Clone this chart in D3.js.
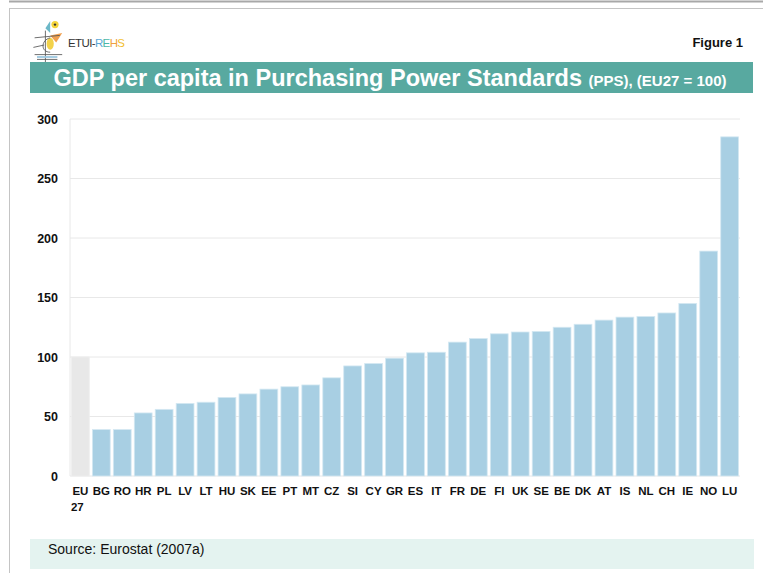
<!DOCTYPE html>
<html>
<head>
<meta charset="utf-8">
<script src="https://cdn.jsdelivr.net/npm/d3@7"></script>
<style>
  body { margin: 0; background: #fff; font-family: "Liberation Sans", Arial, sans-serif; }
</style>
</head>
<body>
<svg id="chart" width="763" height="575"></svg>
<script>
// 数据
let countries = ["EU 27", "BG", "RO", "HR", "PL", "LV", "LT", "HU", "SK", "EE", "PT", "MT", "CZ", "SI", "CY", "GR",
                 "ES", "IT", "FR", "DE", "FI", "UK", "SE", "BE", "DK", "AT", "IS", "NL", "CH", "IE", "NO", "LU"];
let values = [100, 39, 39, 53, 56, 61, 62, 66, 69, 73, 75, 76.5, 82.5, 92.5, 94.5, 99,
              103.5, 104, 112.5, 115.5, 119.5, 121, 121.5, 125, 127.5, 131, 133.5, 134, 137, 145, 189, 285];
let yTicks = [0, 50, 100, 150, 200, 250, 300];

let svg = d3.select("#chart");
let margin = { left: 70, right: 23, top: 119, bottom: 99 };
let W = 763, H = 575;

// 外框
svg.append("line").attr("x1", 9).attr("x2", W).attr("y1", 1.5).attr("y2", 1.5)
   .attr("stroke", "#a8a8a8").attr("stroke-width", 2);
svg.append("line").attr("x1", 9).attr("x2", W).attr("y1", 8.5).attr("y2", 8.5)
   .attr("stroke", "#c4c4c4").attr("stroke-width", 1);
svg.append("line").attr("x1", 9.5).attr("x2", 9.5).attr("y1", 8).attr("y2", 573)
   .attr("stroke", "#c4c4c4").attr("stroke-width", 1);

// logo
let logo = svg.append("g").attr("transform", "translate(31,21) scale(1.2)");
logo.append("path").attr("d", "M12,6 L16,0 L16,10 Z").attr("fill", "#6cb8c8");
logo.append("circle").attr("cx", 20).attr("cy", 3).attr("r", 3).attr("fill", "#f4d43c");
logo.append("circle").attr("cx", 20).attr("cy", 3).attr("r", 1).attr("fill", "#333");
logo.append("path").attr("d", "M16,12 L26,10 L21,18 Z").attr("fill", "#f0a050");
logo.append("ellipse").attr("cx", 16).attr("cy", 19).attr("rx", 3).attr("ry", 5).attr("fill", "#f2d24a");
logo.append("path").attr("d", "M12,8 L12,36 M3,14 L24,12 M2,22 L11,20 M3,28 L26,28 M5,32 L22,32 M16,14 C8,16 8,26 16,26")
    .attr("stroke", "#555").attr("stroke-width", 0.7).attr("fill", "none");
logo.append("path").attr("d", "M5,30 L22,30").attr("stroke", "#9cc8e0").attr("stroke-width", 1.5);
let logoText = svg.append("text").attr("x", 68).attr("y", 46.5)
    .attr("font-family", "'Liberation Sans Narrow', 'Liberation Sans', Arial, sans-serif")
    .attr("font-size", 11.5).attr("fill", "#333").attr("textLength", 57);
logoText.append("tspan").text("ETUI-");
logoText.append("tspan").attr("fill", "#5aa8d8").text("R");
logoText.append("tspan").attr("fill", "#4cb8a8").text("E");
logoText.append("tspan").attr("fill", "#f0a040").text("H");
logoText.append("tspan").attr("fill", "#f2c030").text("S");

svg.append("text").attr("x", 743).attr("y", 47).attr("text-anchor", "end")
   .attr("font-size", 13).attr("font-weight", "bold").attr("fill", "#111").text("Figure 1");

// 标题栏
svg.append("rect").attr("x", 30).attr("y", 62).attr("width", 723).attr("height", 31).attr("fill", "#58a9a0");
let title = svg.append("text").attr("x", 390).attr("y", 85.5).attr("text-anchor", "middle")
    .attr("fill", "#fff").attr("font-weight", "bold");
title.append("tspan").attr("font-size", 23.5).text("GDP per capita in Purchasing Power Standards ");
title.append("tspan").attr("font-size", 15).text("(PPS), (EU27 = 100)");

// 比例尺
let x = d3.scaleBand().domain(countries).range([margin.left, W - margin.right])
          .paddingInner(0.15).paddingOuter(0.07);
let y = d3.scaleLinear().domain([0, 300]).range([476, margin.top]);

// 网格线
svg.append("g").selectAll("line").data(yTicks).enter().append("line")
   .attr("x1", margin.left).attr("x2", W - margin.right)
   .attr("y1", d => y(d)).attr("y2", d => y(d))
   .attr("stroke", "#e8e8e8").attr("stroke-width", 1);
svg.append("line").attr("x1", margin.left).attr("x2", margin.left)
   .attr("y1", y(300)).attr("y2", y(0)).attr("stroke", "#e8e8e8");

// y 轴
let yAxis = d3.axisLeft(y).tickValues(yTicks).tickSize(0).tickPadding(12);
let gy = svg.append("g").attr("transform", "translate(" + margin.left + ",0)").call(yAxis);
gy.select(".domain").remove();
gy.selectAll("text").attr("font-size", 12.5).attr("font-weight", "bold").attr("fill", "#111")
  .attr("font-family", "'Liberation Sans', Arial, sans-serif");

// 柱子
svg.append("g").selectAll("rect").data(countries).enter().append("rect")
   .attr("x", d => x(d))
   .attr("y", (d, i) => y(values[i]))
   .attr("width", x.bandwidth())
   .attr("height", (d, i) => y(0) - y(values[i]))
   .attr("fill", (d, i) => i === 0 ? "#e8e8e8" : "#a8cfe3")
   .attr("stroke", (d, i) => i === 0 ? "#eeeeee" : "#d4e8f2").attr("stroke-width", 0.8);

// x 轴
let xAxis = d3.axisBottom(x).tickSize(0).tickPadding(11);
let gx = svg.append("g").attr("transform", "translate(0," + y(0) + ")").call(xAxis);
gx.select(".domain").remove();
gx.selectAll("text").attr("font-size", 11.5).attr("font-weight", "bold").attr("fill", "#111")
  .attr("font-family", "'Liberation Sans', Arial, sans-serif")
  .each(function(d) {
      let parts = d.split(" ");
      if (parts.length > 1) {
          let t = d3.select(this).text(null);
          t.append("tspan").attr("x", 0).text(parts[0]);
          t.append("tspan").attr("x", -3).attr("dy", "1.4em").text(parts[1]);
      }
  });

// 来源
svg.append("rect").attr("x", 30).attr("y", 539).attr("width", 724).attr("height", 30).attr("fill", "#e4f3f0");
svg.append("text").attr("x", 48).attr("y", 553.5).attr("font-size", 14).attr("fill", "#111")
   .text("Source: Eurostat (2007a)");
</script>
</body>
</html>
